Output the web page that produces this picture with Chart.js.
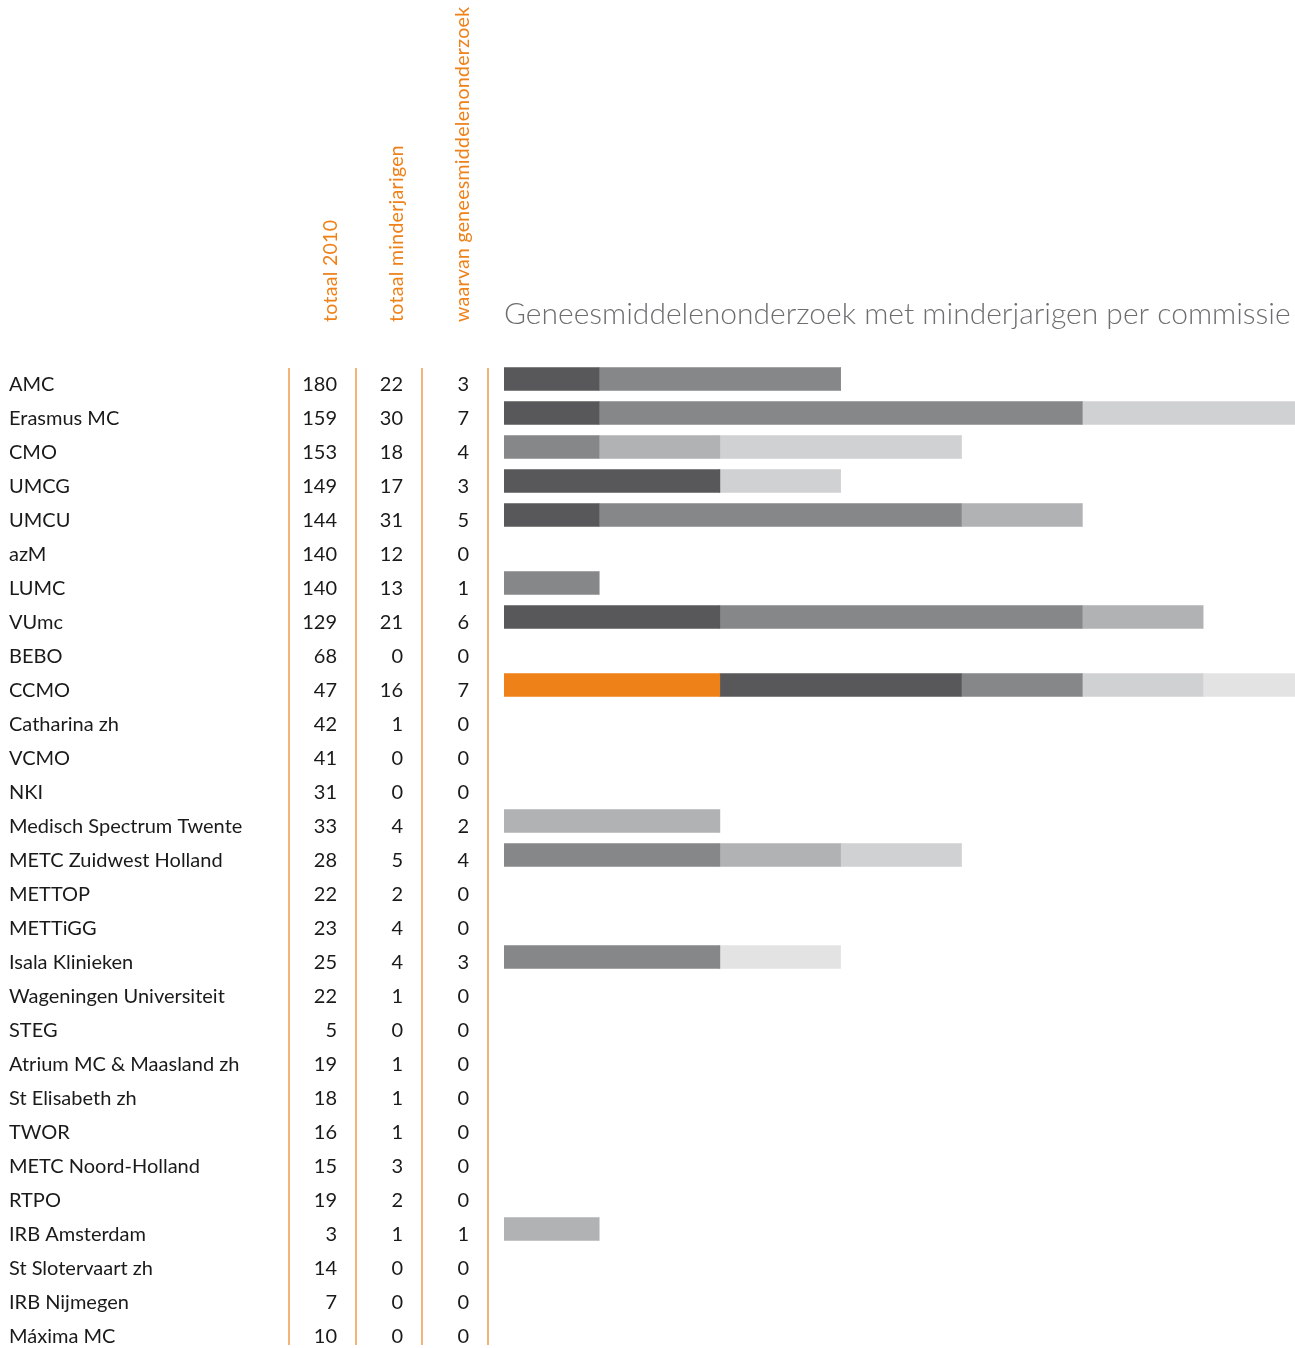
<!DOCTYPE html>
<html>
<head>
    <meta charset="UTF-8">
    <title>Geneesmiddelenonderzoek met minderjarigen per commissie</title>
    <script src="https://cdn.jsdelivr.net/npm/chart.js@4.4.1/dist/chart.umd.min.js"></script>
    <style>
        body { margin: 0; background: #fff; }
        #chart { display: block; }
    </style>
</head>
<body>
    <canvas id="chart" width="1295" height="1348"></canvas>

    <script>
        // commissies en de drie kolommen van de tabel
        const commissies = ["AMC", "Erasmus MC", "CMO", "UMCG", "UMCU", "azM", "LUMC", "VUmc", "BEBO", "CCMO",
            "Catharina zh", "VCMO", "NKI", "Medisch Spectrum Twente", "METC Zuidwest Holland", "METTOP", "METTiGG",
            "Isala Klinieken", "Wageningen Universiteit", "STEG", "Atrium MC & Maasland zh", "St Elisabeth zh",
            "TWOR", "METC Noord-Holland", "RTPO", "IRB Amsterdam", "St Slotervaart zh", "IRB Nijmegen", "Máxima MC"];
        const totaal2010 = [180, 159, 153, 149, 144, 140, 140, 129, 68, 47, 42, 41, 31, 33, 28, 22, 23, 25, 22, 5, 19, 18, 16, 15, 19, 3, 14, 7, 10];
        const totaalMinderjarigen = [22, 30, 18, 17, 31, 12, 13, 21, 0, 16, 1, 0, 0, 4, 5, 2, 4, 4, 1, 0, 1, 1, 1, 3, 2, 1, 0, 0, 0];
        const waarvanGeneesmiddelen = [3, 7, 4, 3, 5, 0, 1, 6, 0, 7, 0, 0, 0, 2, 4, 0, 0, 3, 0, 0, 0, 0, 0, 0, 0, 1, 0, 0, 0];

        // kolomkoppen
        const kolomKoppen = ["totaal 2010", "totaal minderjarigen", "waarvan geneesmiddelenonderzoek"];

        // balksegmenten per kleur (samen = waarvan geneesmiddelenonderzoek)
        const segOranje  = [0, 0, 0, 0, 0, 0, 0, 0, 0, 2, 0, 0, 0, 0, 0, 0, 0, 0, 0, 0, 0, 0, 0, 0, 0, 0, 0, 0, 0];
        const segDonker  = [1, 1, 0, 2, 1, 0, 0, 2, 0, 2, 0, 0, 0, 0, 0, 0, 0, 0, 0, 0, 0, 0, 0, 0, 0, 0, 0, 0, 0];
        const segMidden  = [2, 4, 1, 0, 3, 0, 1, 3, 0, 1, 0, 0, 0, 0, 2, 0, 0, 2, 0, 0, 0, 0, 0, 0, 0, 0, 0, 0, 0];
        const segLicht   = [0, 0, 1, 0, 1, 0, 0, 1, 0, 0, 0, 0, 0, 2, 1, 0, 0, 0, 0, 0, 0, 0, 0, 0, 0, 1, 0, 0, 0];
        const segLichter = [0, 2, 2, 1, 0, 0, 0, 0, 0, 1, 0, 0, 0, 0, 1, 0, 0, 0, 0, 0, 0, 0, 0, 0, 0, 0, 0, 0, 0];
        const segLichtst = [0, 0, 0, 0, 0, 0, 0, 0, 0, 1, 0, 0, 0, 0, 0, 0, 0, 1, 0, 0, 0, 0, 0, 0, 0, 0, 0, 0, 0];

        const ORANJE = "#ef8119";
        const FONT = "Lato, 'Open Sans', sans-serif";

        // tabel links van de balken, uitgelijnd op de y-schaal
        const tabelPlugin = {
            id: "tabel",
            afterDraw(chart) {
                const ctx = chart.ctx;
                const y = chart.scales.y;
                const area = chart.chartArea;
                const kolomRechts = [337, 403, 469];
                const lijnen = [289, 356, 422, 488];

                ctx.save();
                // oranje scheidingslijnen
                ctx.strokeStyle = "#f29b4a";
                ctx.lineWidth = 1.5;
                const top = y.getPixelForValue(0) - 11;
                lijnen.forEach(x => {
                    ctx.beginPath();
                    ctx.moveTo(x, top);
                    ctx.lineTo(x, area.bottom - 3);
                    ctx.stroke();
                });

                // namen en getallen
                ctx.fillStyle = "#1a1a1a";
                ctx.font = "20px " + FONT;
                ctx.textBaseline = "alphabetic";
                ctx.letterSpacing = "0px";
                const kolommen = [totaal2010, totaalMinderjarigen, waarvanGeneesmiddelen];
                commissies.forEach((naam, i) => {
                    const py = y.getPixelForValue(i) + 12;
                    ctx.textAlign = "left";
                    ctx.fillText(naam, 9, py);
                    ctx.textAlign = "right";
                    kolommen.forEach((kol, k) => ctx.fillText(String(kol[i]), kolomRechts[k], py));
                });

                // gedraaide kolomkoppen
                ctx.fillStyle = ORANJE;
                ctx.font = "19.5px " + FONT;
                ctx.textAlign = "left";
                ctx.letterSpacing = "0.3px";
                kolomKoppen.forEach((kop, k) => {
                    ctx.save();
                    ctx.translate(kolomRechts[k], 322);
                    ctx.rotate(-Math.PI / 2);
                    ctx.fillText(kop, 0, 0);
                    ctx.restore();
                });
                ctx.restore();
            }
        };

        const kleuren = [ORANJE, "#58585a", "#868789", "#b1b2b3", "#d0d1d3", "#e2e3e2"];
        const reeksen = [segOranje, segDonker, segMidden, segLicht, segLichter, segLichtst];

        new Chart(document.getElementById("chart"), {
            type: "bar",
            data: {
                labels: commissies,
                datasets: reeksen.map((data, i) => ({
                    label: "segment " + (i + 1),
                    data: data,
                    backgroundColor: kleuren[i],
                    borderWidth: 0,
                    barThickness: 23,
                    clip: 0
                }))
            },
            options: {
                indexAxis: "y",
                responsive: false,
                animation: false,
                layout: { padding: { left: 504, right: 0, top: 0, bottom: 0 } },
                scales: {
                    x: { stacked: true, min: 0.2136, max: 6.762, display: false },
                    y: { stacked: true, display: false }
                },
                plugins: {
                    legend: { display: false },
                    tooltip: { enabled: false },
                    title: {
                        display: true,
                        text: "Geneesmiddelenonderzoek met minderjarigen per commissie",
                        align: "start",
                        color: "#6d6e70",
                        font: { family: FONT, size: 30, weight: "300" },
                        padding: { top: 296, bottom: 30 }
                    }
                }
            },
            plugins: [tabelPlugin]
        });
    </script>
</body>
</html>
